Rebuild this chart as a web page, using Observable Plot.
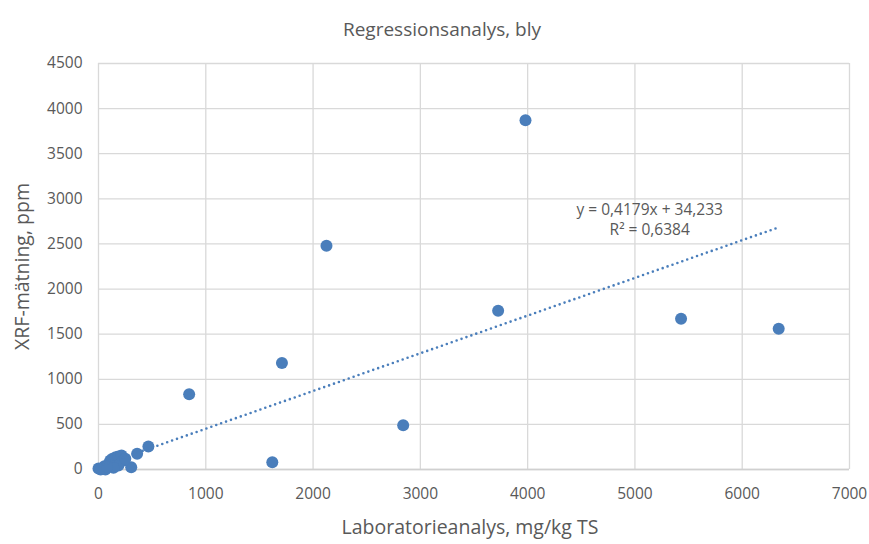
<!DOCTYPE html>
<html>
<head>
<meta charset="utf-8">
<script src="https://cdn.jsdelivr.net/npm/d3@7"></script>
<script src="https://cdn.jsdelivr.net/npm/@observablehq/plot@0.6"></script>
<style>
  html, body { margin: 0; padding: 0; background: #fff; }
  #chart { width: 869px; height: 544px; }
</style>
</head>
<body>
<div id="chart"></div>
<script>
// Data
const title = "Regressionsanalys, bly";
const xLabel = "Laboratorieanalys, mg/kg TS";
const yLabel = "XRF-mätning, ppm";
const labValues = [3980, 2125, 3725, 5430, 6340, 1710, 845, 2840, 1620, 465, 360, 305,
                   0, 30, 55, 65, 95, 110, 130, 160, 185, 215, 235, 185, 140, 250, 20, 80];
const xrfValues = [3870, 2480, 1760, 1670, 1560, 1180, 835, 490, 80, 255, 175, 25,
                   10, 10, 35, 0, 65, 100, 120, 135, 145, 155, 100, 45, 20, 120, 0, 30];
const slope = 0.4179;
const intercept = 34.233;
const eqText = "y = 0,4179x + 34,233\nR² = 0,6384";
const xTicks = [0, 1000, 2000, 3000, 4000, 5000, 6000, 7000];
const yTicks = [0, 500, 1000, 1500, 2000, 2500, 3000, 3500, 4000, 4500];

const points = labValues.map((x, i) => ({x, y: xrfValues[i]}));
const [xmin, xmax] = d3.extent(labValues);
const trend = [xmin, xmax].map(x => ({x, y: slope * x + intercept}));
const trendEnd = [trend[1]];

const grey = "#595959";
const blue = "#4a7ebb";
const font = "'Open Sans', 'Noto Sans', sans-serif";
const fmt = d3.format("d");

const chart = Plot.plot({
  width: 869,
  height: 544,
  marginLeft: 98,
  marginRight: 20,
  marginTop: 63,
  marginBottom: 75,
  style: {fontFamily: font, color: grey, background: "#fff", overflow: "visible"},
  x: {domain: [0, 7000], ticks: xTicks, label: null},
  y: {domain: [0, 4500], ticks: yTicks, label: null},
  marks: [
    Plot.gridX(xTicks, {stroke: "#d9d9d9", strokeOpacity: 1, strokeWidth: 1.3}),
    Plot.gridY(yTicks, {stroke: "#d9d9d9", strokeOpacity: 1, strokeWidth: 1.3}),
    Plot.ruleY([0], {stroke: "#d0d0d0", strokeWidth: 1.3}),
    Plot.axisX(xTicks, {tickSize: 0, tickPadding: 18, fontSize: 15.5, fill: grey, tickFormat: fmt}),
    Plot.axisY(yTicks, {tickSize: 0, tickPadding: 16, fontSize: 15.5, fill: grey, tickFormat: fmt}),
    Plot.dot(points, {x: "x", y: "y", r: 6, fill: blue, stroke: null}),
    Plot.line(trend, {x: "x", y: "y", stroke: blue, strokeWidth: 2.6,
      strokeDasharray: "0,5.2", strokeLinecap: "round"}),
    Plot.text(trendEnd, {x: "x", y: "y", text: () => eqText, dx: -129, dy: -9,
      fontSize: 15.5, fill: grey, lineHeight: 1.3, textAnchor: "middle"}),
    Plot.text([title], {frameAnchor: "top", dx: -32, dy: -41, fontSize: 19, fill: grey, textAnchor: "middle"}),
    Plot.text([xLabel], {frameAnchor: "bottom", dx: -4, dy: 64, fontSize: 19.5, fill: grey, textAnchor: "middle"}),
    Plot.text([yLabel], {frameAnchor: "left", dx: -76, dy: 0, rotate: -90, fontSize: 19.5, fill: grey, textAnchor: "middle"})
  ]
});
document.getElementById("chart").appendChild(chart);
</script>
</body>
</html>
